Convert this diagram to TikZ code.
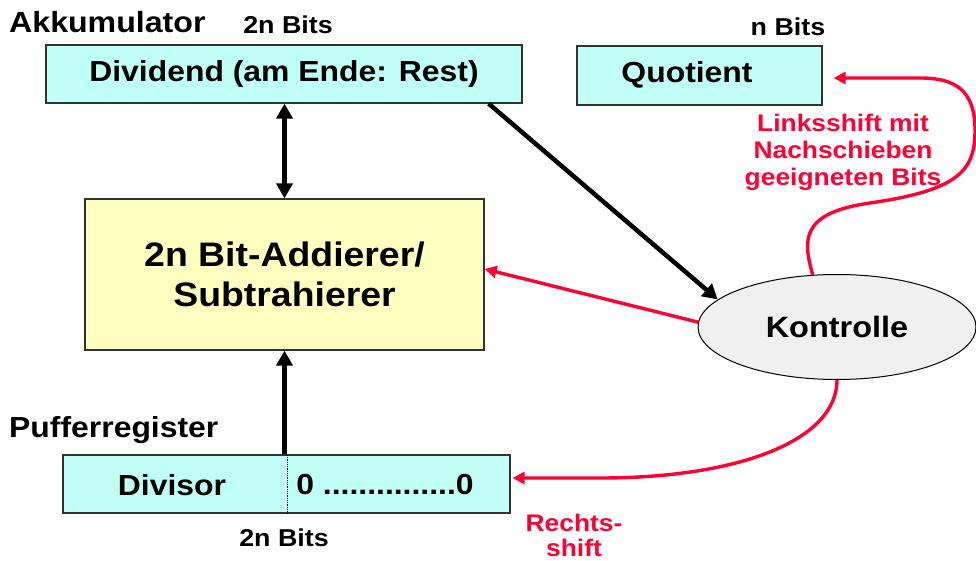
\documentclass[tikz,border=0pt]{standalone}
\usepackage{fontspec}
\setmainfont{Liberation Sans}[FakeStretch=1.1]
\usetikzlibrary{arrows.meta,shapes.geometric,calc}
\definecolor{regcyan}{RGB}{192,255,246}
\definecolor{addyellow}{RGB}{255,255,192}
\definecolor{ctrlgray}{RGB}{240,240,240}
\definecolor{sigred}{RGB}{255,0,51}
\definecolor{edge}{RGB}{50,50,50}
\begin{document}
\begin{tikzpicture}[x=1pt,y=-1pt,
  reg/.style={draw=edge,line width=1.2pt,fill=regcyan,rectangle,inner sep=0pt},
  bigtxt/.style={font=\bfseries\fontsize{29}{33}\selectfont},
  smalltxt/.style={font=\bfseries\fontsize{24.4}{28}\selectfont},
  redtxt/.style={font=\bfseries\fontsize{24}{27}\selectfont,text=sigred,align=center},
  dataflow/.style={line width=4.5pt,-{Triangle[length=15pt,width=16pt]}},
  ctrlflow/.style={draw=sigred,line width=3.4pt,-{Triangle[length=12pt,width=12pt]}}
]
\useasboundingbox (0,0) rectangle (976,561);

% registers and units
\node[reg,minimum width=476pt,minimum height=58pt,bigtxt] (dividend) at (284,74) {Dividend (am Ende: Rest)};
\node[reg,minimum width=245pt,minimum height=59pt] (quot) at (699.5,75.5) {};
\node[bigtxt] (quottext) at (687,75) {Quotient};
\node[draw=edge,line width=1.2pt,fill=addyellow,minimum width=399pt,minimum height=151pt,
      inner sep=0pt,align=center,font=\bfseries\fontsize{34}{40}\selectfont] (adder) at (284.5,274.5)
      {2n Bit-Addierer/\\Subtrahierer};
\node[reg,minimum width=447pt,minimum height=58pt] (divisor) at (286.5,484) {};
\node[bigtxt] (divtext) at (172,485) {Divisor};
\node[bigtxt] (zeros) at (385,485) {0 ...............0};
\draw[densely dotted,line width=0.8pt] (287,455) -- (287,513);
\node[ellipse,draw=black,line width=1pt,fill=ctrlgray,minimum width=278pt,minimum height=105pt,
      inner sep=0pt,font=\bfseries\fontsize{29.5}{33}\selectfont] (ctrl) at (837,327) {Kontrolle};

% captions
\node[anchor=west,font=\bfseries\fontsize{29.2}{33}\selectfont,inner sep=0pt] (akku) at (9,22) {Akkumulator};
\node[smalltxt] (bitsA) at (288,25) {2n Bits};
\node[smalltxt] (bitsQ) at (788,27) {n Bits};
\node[anchor=west,font=\bfseries\fontsize{29}{33}\selectfont,inner sep=0pt] (puffer) at (9,430) {Pufferregister};
\node[smalltxt] (bitsD) at (284,538) {2n Bits};
\node[redtxt,font=\bfseries\fontsize{24}{25}\selectfont] (rshift) at (574,535) {Rechts-\\shift};
\node[redtxt] (lshift) at (843,152) {Linksshift mit\\Nachschieben\\geeigneten Bits};

% data paths
\draw[line width=4.5pt,{Triangle[length=15pt,width=16pt]}-{Triangle[length=15pt,width=16pt]}]
  (dividend.south -| adder.north) -- (adder.north);
\draw[dataflow] (divisor.north -| adder.south) -- (adder.south);
\draw[dataflow] ([xshift=-34pt]dividend.south east) -- (ctrl.167);

% control signals
\draw[ctrlflow] (ctrl.178) -- ([yshift=5.5pt]adder.east);
\coordinate (qin) at ([xshift=11pt,yshift=-2.5pt]quot.east);
\draw[ctrlflow] (ctrl.115) .. controls (803,240) and (800,213) .. (870,203)
  .. controls (960,190) and (975,170) .. (975,130)
  .. controls (975,90) and (955,78) .. (920,78) -- (qin);
\coordinate (din) at ([xshift=2pt,yshift=6pt]divisor.east);
\draw[ctrlflow] (ctrl.south) .. controls (837,440) and (740,478) .. (600,478) -- (din);
\end{tikzpicture}
\end{document}
